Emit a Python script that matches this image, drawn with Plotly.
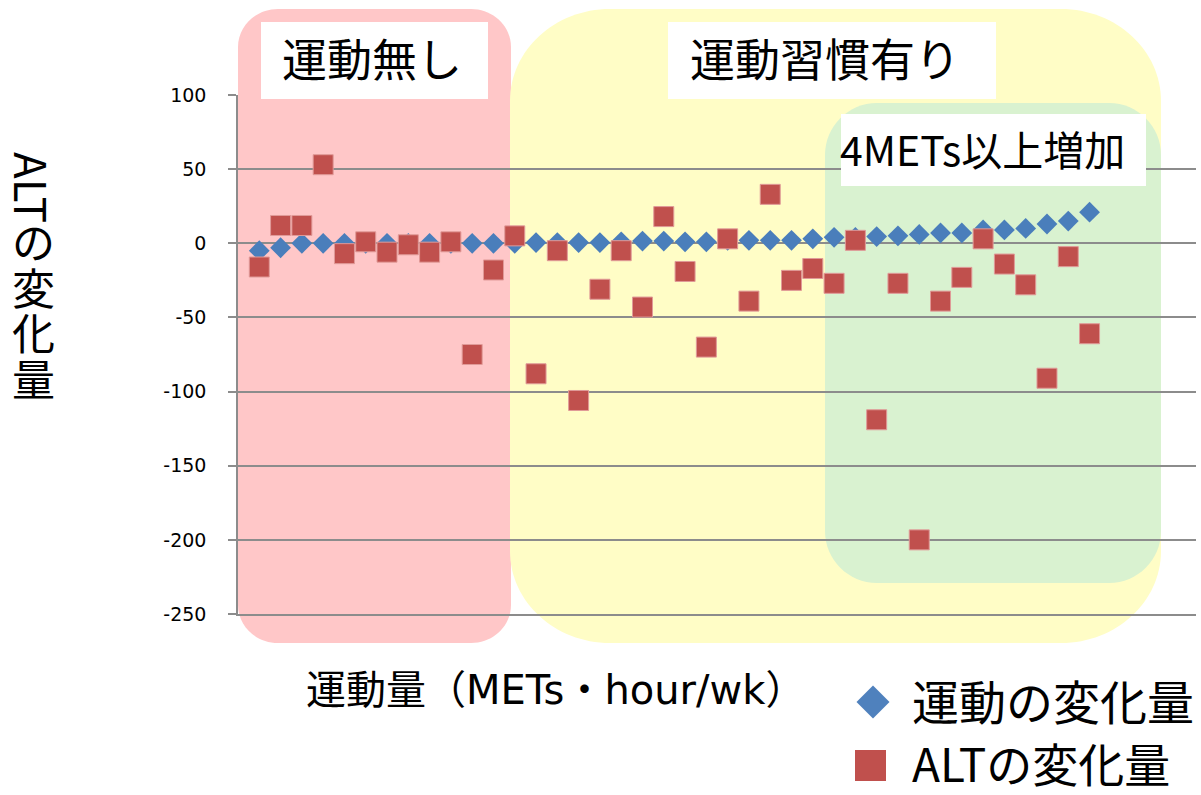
import plotly.graph_objects as go

# ---- data ----
subjects = list(range(1, 41))
exercise_change = [-5, -3, 0, 0, 0, 0, 0, 0, 0, 0,
                   0, 0, 0, 0.5, 0.5, 0.5, 0.5, 1, 1.5, 1.5,
                   1, 1, 2, 2, 2, 2, 3, 4, 4, 4.5,
                   5, 6, 7, 7, 9, 9, 10, 13, 15, 21]
alt_change = [-16, 12, 12, 53, -7, 1, -6, -1, -6, 1,
              -75, -18, 5, -88, -5, -106, -31, -5, -43, 18,
              -19, -70, 3, -39, 33, -25, -17, -27, 2, -119,
              -27, -200, -39, -23, 3, -14, -28, -91, -9, -61]
y_ticks = [100, 50, 0, -50, -100, -150, -200, -250]

series_names = ["運動の変化量", "ALTの変化量"]
y_title = "ALTの変化量"
x_title = "運動量（METs・hour/wk）"
zone_labels = ["運動無し", "運動習慣有り", "4METs以上増加"]

# ---- geometry helpers (pixel -> paper) ----
W, H = 1201, 795
L, R, T, B = 238, 1196, 95, 614
JP = "Noto Sans CJK JP"
WIDE = "DejaVu Sans, Noto Sans CJK JP"


def px(x):
    return (x - L) / (R - L)


def py(y):
    return (B - y) / (B - T)


def rounded(x0, y0, x1, y1, rx, ry):
    k = 0.5523
    pts = []
    pts.append(f"M {px(x0+rx)},{py(y0)}")
    pts.append(f"L {px(x1-rx)},{py(y0)}")
    pts.append(f"C {px(x1-rx+k*rx)},{py(y0)} {px(x1)},{py(y0+ry-k*ry)} {px(x1)},{py(y0+ry)}")
    pts.append(f"L {px(x1)},{py(y1-ry)}")
    pts.append(f"C {px(x1)},{py(y1-ry+k*ry)} {px(x1-rx+k*rx)},{py(y1)} {px(x1-rx)},{py(y1)}")
    pts.append(f"L {px(x0+rx)},{py(y1)}")
    pts.append(f"C {px(x0+rx-k*rx)},{py(y1)} {px(x0)},{py(y1-ry+k*ry)} {px(x0)},{py(y1-ry)}")
    pts.append(f"L {px(x0)},{py(y0+ry)}")
    pts.append(f"C {px(x0)},{py(y0+ry-k*ry)} {px(x0+rx-k*rx)},{py(y0)} {px(x0+rx)},{py(y0)}")
    pts.append("Z")
    return " ".join(pts)


shapes = []
# zone backgrounds
shapes.append(dict(type="path", xref="paper", yref="paper", layer="below",
                   path=rounded(238, 9, 511, 643, 40, 38),
                   fillcolor="#FFC7C8", line=dict(width=0)))
shapes.append(dict(type="path", xref="paper", yref="paper", layer="below",
                   path=rounded(510, 9, 1161, 643, 100, 92),
                   fillcolor="#FFFDC6", line=dict(width=0)))
shapes.append(dict(type="path", xref="paper", yref="paper", layer="below",
                   path=rounded(825, 103, 1161, 583, 52, 52),
                   fillcolor="#D9F2D0", line=dict(width=0)))
# white label boxes
for (x0, y0, x1, y1) in [(261, 22, 488, 99), (668, 22, 996, 99), (841, 114, 1146, 186)]:
    shapes.append(dict(type="rect", xref="paper", yref="paper", layer="above",
                       x0=px(x0), x1=px(x1), y0=py(y1), y1=py(y0),
                       fillcolor="white", line=dict(width=0)))

# legend keys
shapes.append(dict(type="path", xref="paper", yref="paper", layer="above",
                   path=f"M {px(873)},{py(685.5)} L {px(889.5)},{py(702)} L {px(873)},{py(718.5)} L {px(856.5)},{py(702)} Z",
                   fillcolor="#4F81BD", line=dict(width=0)))
shapes.append(dict(type="rect", xref="paper", yref="paper", layer="above",
                   x0=px(855), x1=px(886), y0=py(781), y1=py(750),
                   fillcolor="#C0504D", line=dict(width=0)))

annotations = []


def ann(text, x, y, size, xanchor="center", angle=0, family=JP):
    annotations.append(dict(text=text, x=px(x), y=py(y), xref="paper", yref="paper",
                            showarrow=False, xanchor=xanchor, yanchor="middle",
                            textangle=angle,
                            font=dict(family=family, size=size, color="black")))


ann(zone_labels[0], 372, 57, 45)
ann(zone_labels[1], 825, 57, 45)
ann(zone_labels[2], 982, 148, 41)
ann(x_title, 555, 690, 40, family=WIDE)
ann(series_names[0], 910, 699, 47, xanchor="left")
ann(series_names[1], 910, 762, 46, xanchor="left")

# vertical y-axis title: Latin part rotated, CJK chars upright
ann(y_title[:3], 33, 187, 44, angle=90)
cjk = "<br>".join(f"<span style='font-size:43px'>{ch}</span>" for ch in y_title[3:])
ann(cjk, 33, 308, 35)

fig = go.Figure()
fig.add_trace(go.Scatter(x=subjects, y=exercise_change, mode="markers",
                         name=series_names[0],
                         marker=dict(symbol="diamond", size=16, color="#4A7EBB",
                                     line=dict(width=0))))
fig.add_trace(go.Scatter(x=subjects, y=alt_change, mode="markers",
                         name=series_names[1],
                         marker=dict(symbol="square", size=20, color="#C0504D",
                                     line=dict(width=1, color="#E09A98"))))

fig.update_layout(
    width=W, height=H,
    margin=dict(l=L, r=W - R, t=T, b=H - B, pad=0),
    paper_bgcolor="white", plot_bgcolor="rgba(0,0,0,0)",
    showlegend=False,
    shapes=shapes, annotations=annotations,
    xaxis=dict(range=[0, 45], showgrid=False, zeroline=False, showticklabels=False,
               showline=True, linecolor="#8C8C8C", linewidth=1.5, ticks=""),
    yaxis=dict(range=[-250, 100], tickvals=y_ticks, ticktext=[str(v) for v in y_ticks],
               showgrid=True, gridcolor="#8C8C8C", gridwidth=1.5, zeroline=False,
               showline=True, linecolor="#8C8C8C", linewidth=1.5,
               ticks="outside", ticklen=8, tickcolor="#8C8C8C", tickwidth=1.5,
               ticklabelstandoff=18,
               tickfont=dict(family="DejaVu Sans", size=19, color="black")),
)

fig.write_html("out.html", config={"displayModeBar": False},
               post_script="document.body.style.margin='0px';document.body.style.overflow='hidden';")
